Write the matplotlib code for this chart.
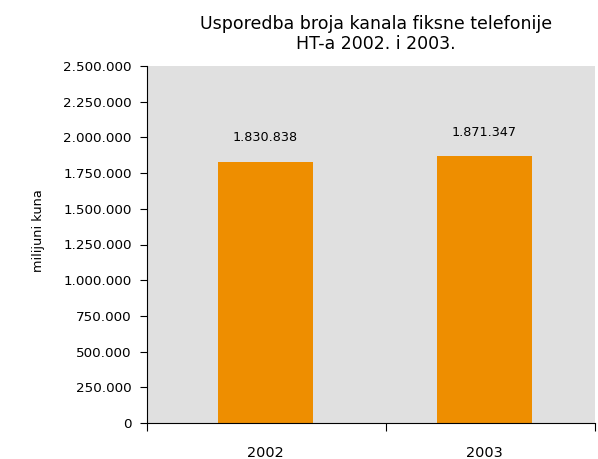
import matplotlib.pyplot as plt
import numpy as np

years = ['2002', '2003']
values = [1830838, 1871347]
yticks = np.arange(0, 2500001, 250000)


def fmt(v):
    return f'{int(v):,}'.replace(',', '.')


plt.rcParams['font.family'] = ['DejaVu Sans']

fig = plt.figure(figsize=(5.98, 4.59), dpi=100)
ax = fig.add_axes([147 / 598, 1 - 423 / 459, 448 / 598, 357 / 459])
ax.set_facecolor('#e0e0e0')

x = np.arange(len(years))
ax.bar(x, values, width=0.433, color='#ee8e00', zorder=2)
for xi, v in zip(x, values):
    ax.text(xi, v + 120000, fmt(v), ha='center', va='bottom', fontsize=9.2)

ax.set_xlim(-0.54, 1.504)
ax.set_ylim(0, 2500000)
ax.set_yticks(yticks)
ax.set_yticklabels([fmt(t) for t in yticks], fontsize=9.7)
ax.set_xticks([-0.54, 0.55, 1.504])
ax.set_xticklabels([])
ax.tick_params(axis='x', length=6, direction='out')
ax.tick_params(axis='y', length=5, direction='out', pad=6)
for xi, y in zip(x, years):
    ax.text(xi, -0.083, y, transform=ax.get_xaxis_transform(),
            ha='center', va='center', fontsize=10.4)

for s in ['top', 'right']:
    ax.spines[s].set_visible(False)

ax.set_ylabel('milijuni kuna', fontsize=9.3)
ax.yaxis.set_label_coords(-0.228, 0.54)
fig.text(376 / 598, 1 - 34 / 459, 'Usporedba broja kanala fiksne telefonije\nHT-a 2002. i 2003.',
         ha='center', va='center', fontsize=12.5, linespacing=1.2)

fig.savefig('out.png', dpi=100)
